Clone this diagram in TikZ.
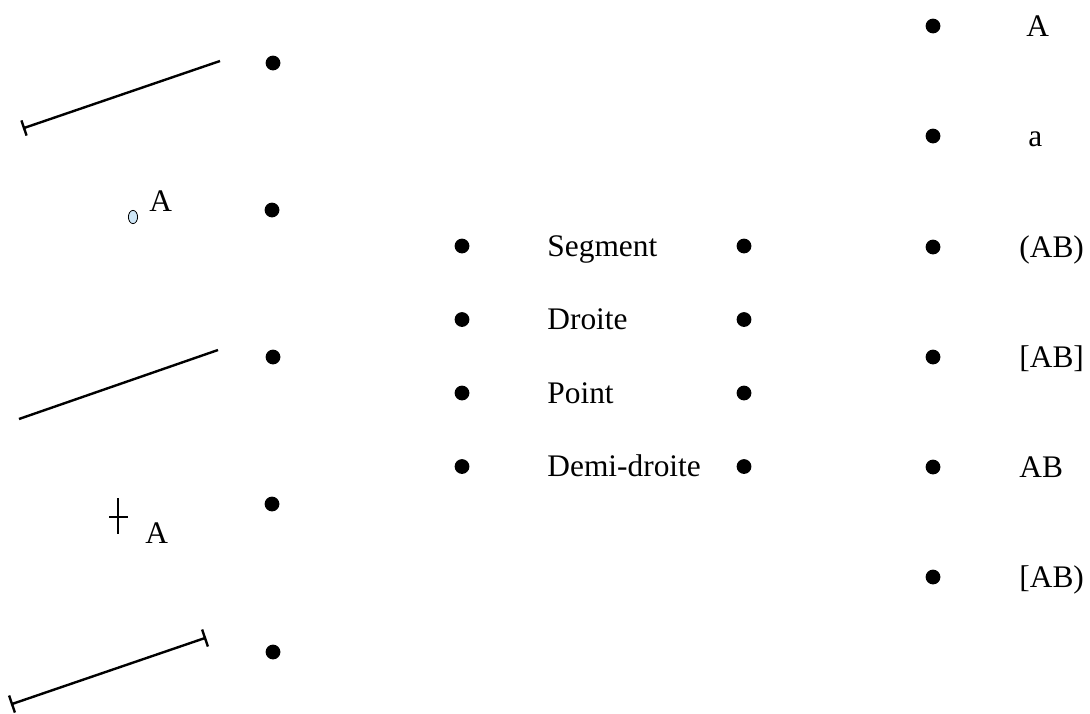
\documentclass[tikz,border=0pt]{standalone}
\usepackage{fontspec}
\setmainfont{Liberation Serif}
\usetikzlibrary{calc,shapes.geometric}
\definecolor{pointbleu}{RGB}{206,230,246}
\begin{document}
\begin{tikzpicture}[
    x=0.5pt, y=-0.5pt,
    dot/.style={circle, fill=black, inner sep=0pt, minimum size=7.4pt},
    word/.style={anchor=base west, inner sep=0pt, font=\fontsize{15.7}{18}\selectfont},
    trait/.style={line width=1.2pt},
    croix/.style={line width=0.9pt}
]
    \useasboundingbox (0,0) rectangle (1090,713);

    % Figures on the left
    \coordinate (r1) at (24,128);
    \coordinate (r2) at (220,61);
    \draw [trait] (r1) -- (r2);
    \draw [trait] ($(r1)!4pt!90:(r2)$) -- ($(r1)!4pt!-90:(r2)$);

    \node [draw, ellipse, fill=pointbleu, line width=0.4pt, inner sep=0pt,
           minimum width=4.6pt, minimum height=6.6pt] (pA) at (133,217) {};
    \node [word] (lA) at (149,211) {A};

    \coordinate (d1) at (19,419);
    \coordinate (d2) at (218,350);
    \draw [trait] (d1) -- (d2);

    \coordinate (c1) at (118,498);
    \coordinate (c2) at (118,534);
    \coordinate (c3) at (109,517);
    \coordinate (c4) at (128,517);
    \draw [croix] (c1) -- (c2);
    \draw [croix] (c3) -- (c4);
    \node [word] (lB) at (145,543) {A};

    \coordinate (s1) at (12,704);
    \coordinate (s2) at (205,638);
    \draw [trait] (s1) -- (s2);
    \draw [trait] ($(s1)!4.5pt!90:(s2)$) -- ($(s1)!4.5pt!-90:(s2)$);
    \draw [trait] ($(s2)!4.5pt!90:(s1)$) -- ($(s2)!4.5pt!-90:(s1)$);

    % Left dots
    \node [dot] (g1) at (273,63) {};
    \node [dot] (g2) at (272,210) {};
    \node [dot] (g3) at (273,357) {};
    \node [dot] (g4) at (272,504) {};
    \node [dot] (g5) at (273,652) {};

    % Middle column
    \node [dot] (m1) at (462,246) {};
    \node [dot] (m2) at (462,319.5) {};
    \node [dot] (m3) at (462,393) {};
    \node [dot] (m4) at (462,466.5) {};
    \node [word] (t1) at (547,256) {Segment};
    \node [word] (t2) at (547,329.5) {Droite};
    \node [word] (t3) at (547,403) {Point};
    \node [word] (t4) at (547,476.5) {Demi-droite};
    \node [dot] (n1) at (744,246) {};
    \node [dot] (n2) at (744,319.5) {};
    \node [dot] (n3) at (744,393) {};
    \node [dot] (n4) at (744,466.5) {};

    % Right column
    \node [dot] (k1) at (933,26) {};
    \node [dot] (k2) at (933,136) {};
    \node [dot] (k3) at (933,247) {};
    \node [dot] (k4) at (933,357) {};
    \node [dot] (k5) at (933,467) {};
    \node [dot] (k6) at (933,577) {};
    \node [word] (u1) at (1026,36) {A};
    \node [word] (u2) at (1028,146) {a};
    \node [word] (u3) at (1019,257) {(AB)};
    \node [word] (u4) at (1019,367) {[AB]};
    \node [word] (u5) at (1019,477) {AB};
    \node [word] (u6) at (1019,587) {[AB)};
\end{tikzpicture}
\end{document}
